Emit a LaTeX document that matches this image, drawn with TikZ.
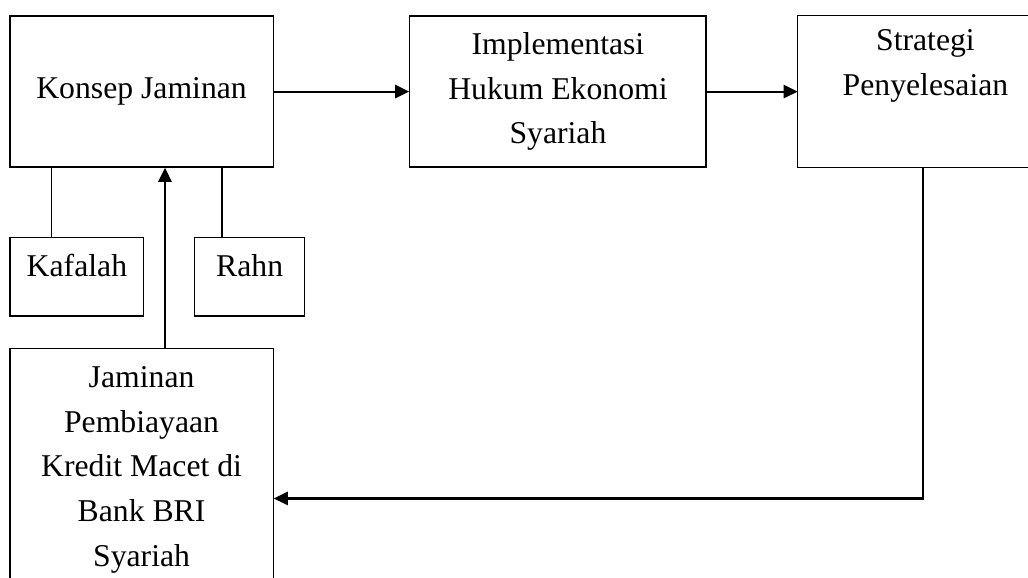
\documentclass[tikz,border=0pt]{standalone}
\usepackage{fontspec}
\setmainfont{Liberation Serif}
\usepackage{tikz}
\usetikzlibrary{arrows.meta,positioning}

\begin{document}
\begin{tikzpicture}[
    font=\fontsize{12pt}{16.9pt}\selectfont,
    box/.style={draw=black, line width=0.5pt, align=center, inner sep=0pt},
    link/.style={line width=0.5pt, black},
    arrow/.style={-{Triangle[length=5.3pt, width=5pt]}, line width=0.8pt, black}
]
\useasboundingbox (-1.883,1.218) rectangle ++(13.672,-7.674);
\clip (-1.883,1.218) rectangle ++(13.672,-7.674);

% Top row
\node[box, minimum width=3.50cm, minimum height=2.01cm] (konsep) at (0,0) {Konsep Jaminan};
\node[box, minimum width=3.94cm, minimum height=2.01cm, right=1.80cm of konsep] (impl) {Implementasi\\Hukum Ekonomi\\Syariah};
\node[box, draw=none, minimum width=3.38cm, minimum height=2.01cm, right=1.21cm of impl] (strat) {Strategi\\Penyelesaian\\\strut};
% box runs past the right edge of the page
\draw[link] ([xshift=1cm]strat.north east) -- (strat.north west) -- (strat.south west) -- ([xshift=1cm]strat.south east);

% Forms of guarantee
\node[box, minimum width=1.78cm, minimum height=1.04cm, text height=2ex, text depth=2ex,
      below=0.92cm of konsep.south west, anchor=north west] (kafalah) {Kafalah};
\node[box, minimum width=1.46cm, minimum height=1.04cm, text height=2ex, text depth=2ex,
      right=0.66cm of kafalah] (rahn) {Rahn};

% Case
\node[box, minimum width=3.50cm, minimum height=3.23cm, below=2.394cm of konsep] (jaminan)
    {Jaminan\\Pembiayaan\\Kredit Macet di\\Bank BRI\\Syariah};

% Connectors
\draw[arrow] (konsep) -- (impl);
\draw[arrow] (impl) -- (strat);
\draw[link] ([xshift=0.56cm]kafalah.north west) coordinate (k) -- (konsep.south -| k);
\draw[link] ([xshift=0.37cm]rahn.north west) coordinate (r) -- (konsep.south -| r);
\draw[arrow] ([xshift=2.07cm]jaminan.north west) coordinate (u) -- (konsep.south -| u);
\draw[arrow] ([xshift=-0.03cm]strat.south) |- ([yshift=-0.38cm]jaminan.east);

\end{tikzpicture}
\end{document}
